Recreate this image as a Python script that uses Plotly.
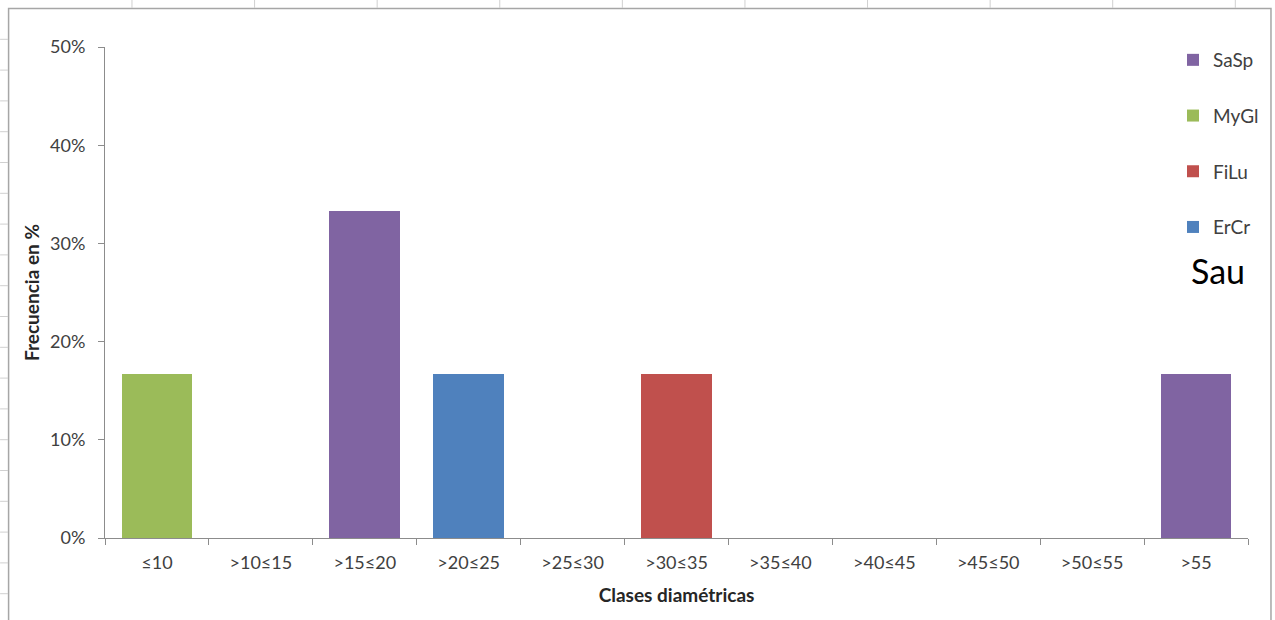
import plotly.graph_objects as go

# Diameter classes (cm) and frequency (%) per species for plot "Sau"
categories = ["≤10", ">10≤15", ">15≤20", ">20≤25", ">25≤30", ">30≤35",
              ">35≤40", ">40≤45", ">45≤50", ">50≤55", ">55"]
sasp = [0, 0, 33.33, 0, 0, 0, 0, 0, 0, 0, 16.67]
mygl = [16.67, 0, 0, 0, 0, 0, 0, 0, 0, 0, 0]
filu = [0, 0, 0, 0, 0, 16.67, 0, 0, 0, 0, 0]
ercr = [0, 0, 0, 16.67, 0, 0, 0, 0, 0, 0, 0]
y_ticks = [0, 10, 20, 30, 40, 50]
y_tick_labels = ["0%", "10%", "20%", "30%", "40%", "50%"]

FONT = "Lato, 'Open Sans', 'DejaVu Sans', sans-serif"
AXIS_GREY = "#8c8c8c"
TEXT = "#404040"

W, H = 1275, 620
ML, MR, MT, MB = 105, 26, 47, 82
plot_w = W - ML - MR
plot_h = H - MT - MB


def px_x(x):
    return (x - ML) / plot_w


def px_y(y):
    return (H - MB - y) / plot_h


series = [
    ("SaSp", sasp, "#8064A2"),
    ("MyGl", mygl, "#9BBB59"),
    ("FiLu", filu, "#C0504D"),
    ("ErCr", ercr, "#4F81BD"),
]

fig = go.Figure()
for name, vals, color in series:
    fig.add_trace(go.Bar(
        x=categories,
        y=vals,
        name=name,
        legendgroup=name,
        marker=dict(color=color, line=dict(width=0)),
        hovertemplate="%{x}: %{y:.1f}%<extra>" + name + "</extra>",
    ))

fig.update_layout(
    width=W,
    height=H,
    barmode="stack",
    bargap=0.32,
    paper_bgcolor="white",
    plot_bgcolor="white",
    margin=dict(l=ML, r=MR, t=MT, b=MB),
    font=dict(family=FONT, size=18, color=TEXT),
    showlegend=True,
    legend=dict(
        x=px_x(1173), y=px_y(41), xanchor="left", yanchor="top",
        traceorder="grouped",
        tracegroupgap=28,
        font=dict(size=19, color=TEXT),
        bgcolor="rgba(0,0,0,0)",
        itemwidth=30,
    ),
    xaxis=dict(
        type="category",
        showline=True, linecolor=AXIS_GREY, linewidth=1,
        ticks="outside", ticklen=6, tickcolor=AXIS_GREY,
        tickson="boundaries",
        ticklabelstandoff=8,
        showgrid=False,
        tickfont=dict(size=18, color=TEXT),
        title=dict(text="<b>Clases diamétricas</b>", font=dict(size=19, color="#262626"), standoff=17),
    ),
    yaxis=dict(
        range=[0, 50],
        tickvals=y_ticks, ticktext=y_tick_labels,
        showline=True, linecolor=AXIS_GREY, linewidth=1,
        ticks="outside", ticklen=6, tickcolor=AXIS_GREY,
        ticklabelstandoff=9,
        showgrid=False, zeroline=False,
        tickfont=dict(size=18, color=TEXT),
        title=dict(text="<b>Frecuencia en %</b>", font=dict(size=19, color="#262626"), standoff=5),
    ),
    annotations=[
        dict(text="Sau", x=px_x(1219), y=px_y(270), xref="paper", yref="paper", showarrow=False,
             font=dict(size=34, color="#000000", family=FONT), xanchor="center", yanchor="middle"),
    ],
)

# chart frame
fig.add_shape(type="rect", xref="paper", yref="paper",
              x0=px_x(8.5), x1=px_x(1272), y0=px_y(640), y1=px_y(8.5),
              line=dict(color="#a6a6a6", width=1.5), fillcolor="rgba(0,0,0,0)", layer="below")

# worksheet cell grid peeking out around the frame
for i in range(1, 20):
    yy = 8.5 + 30.8 * i
    if yy > H:
        break
    fig.add_shape(type="line", xref="paper", yref="paper",
                  x0=px_x(0), x1=px_x(8), y0=px_y(yy), y1=px_y(yy),
                  line=dict(color="#d0d0d0", width=1))
for i in range(11):
    xx = 132 + 122.7 * i
    if xx > W:
        break
    fig.add_shape(type="line", xref="paper", yref="paper",
                  x0=px_x(xx), x1=px_x(xx), y0=px_y(0), y1=px_y(8),
                  line=dict(color="#d0d0d0", width=1))

fig.write_html("out.html")
